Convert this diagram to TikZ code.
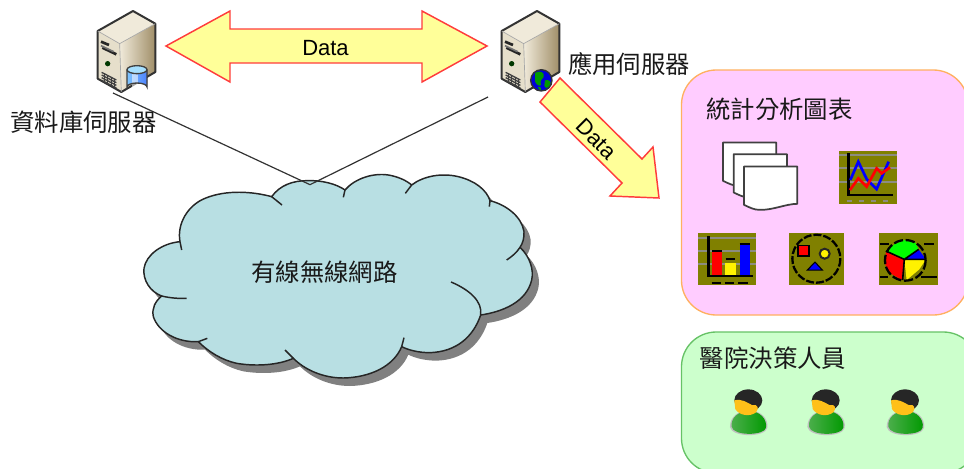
\documentclass[tikz,border=0pt]{standalone}
\usepackage{fontspec}
\newfontfamily\cjk{Noto Sans CJK TC}
\setsansfont{Liberation Sans}
\usetikzlibrary{shadings}
\definecolor{pinkbox}{HTML}{FFCCFF}
\definecolor{pinkedge}{HTML}{FFB060}
\definecolor{greenbox}{HTML}{CCFFCC}
\definecolor{greenedge}{HTML}{66C266}
\definecolor{cloudfill}{HTML}{B8DFE3}
\definecolor{arrowfill}{HTML}{FFFF99}
\definecolor{arrowedge}{HTML}{FF3C3C}
\definecolor{olivebg}{HTML}{808000}
\definecolor{gridgray}{HTML}{8C8C80}
\definecolor{srvlight}{HTML}{F0EADA}
\definecolor{srvfront}{HTML}{E6DFCB}
\definecolor{srvdark}{HTML}{A08E68}
\tikzset{
  label cjk/.style={font=\cjk\fontsize{18.3}{18.3}\selectfont,inner sep=0pt,text=black!90},
  data label/.style={font=\sffamily\fontsize{16.5}{17}\selectfont,inner sep=0pt},
  bigarrow/.style={fill=arrowfill,draw=arrowedge,line width=1.1pt,line join=miter},
  infobox/.style={rounded corners=26pt,line width=1pt},
  zoomunits/.style={x=0.25pt,y=-0.25pt},
  pagesheet/.style={fill=white,draw=black!75,line width=1.3pt,line join=round},
  gridline/.style={gridgray,line width=1.4pt},
  serverbody/.pic={
    \begin{scope}[zoomunits,line join=round]
      \shade[left color=srvlight,right color=srvdark]
        (-40,98)--(67,38)--(67,183)--(-35,243)--cycle;
      \fill[srvlight] (0,0)--(67,38)--(-40,98)--(-106,60)--cycle;
      \fill[srvfront] (-106,60)--(-40,98)--(-35,243)--(-106,203)--cycle;
      \draw[black!80,line width=1.5pt] (0,0)--(67,38)--(67,183)--(-35,243)--(-106,203)--(-106,60)--cycle;
      \draw[black!35,line width=.5pt] (-106,60)--(-40,98)--(67,38) (-40,98)--(-35,243);
      \draw[black!85,line width=2pt] (-96,92)--(-72,102) (-92,110)--(-50,130);
      \draw[black!55,line width=1.2pt] (-96,104)--(-58,122);
      \fill[black!45!green!40!black] (-76,158) circle (8);
      \draw[black!75,line width=1pt] (-94,184)--(-50,207) (-94,192)--(-50,215) (-94,200)--(-50,223) (-94,208)--(-50,231);
      \draw[black!75,line width=.7pt] (-86,188)--(-86,214) (-76,193)--(-76,219) (-66,198)--(-66,224) (-56,203)--(-56,229);
    \end{scope}
  },
  dbdisk/.pic={
    \begin{scope}[zoomunits]
      \fill[left color=blue!45!cyan!50!white,right color=blue!70!cyan!70!white] (-18,176) -- (-18,228) arc[start angle=180,end angle=360,x radius=30,y radius=12] -- (42,176)--cycle;
      \fill[white,opacity=.55] (-4,185) rectangle (14,238);
      \fill[blue!35!cyan!35!white] (12,176) ellipse (30 and 12);
      \draw[black!75,line width=1pt] (-18,176) -- (-18,228) arc[start angle=180,end angle=360,x radius=30,y radius=12] -- (42,176);
      \draw[black!75,line width=1pt] (12,176) ellipse (30 and 12);
    \end{scope}
  },
  globeicon/.pic={
    \begin{scope}[zoomunits]
      \fill[blue!85!black] (13,208) circle (32);
      \fill[green!60!black] (-6,186) .. controls (8,176) and (24,184) .. (20,198) .. controls (14,206) and (8,208) .. (12,222) .. controls (6,230) and (-10,214) .. (-6,204) --cycle;
      \fill[green!60!black] (24,208) .. controls (36,204) and (44,212) .. (40,222) .. controls (32,234) and (24,232) .. (22,224) --cycle;
      \fill[green!60!black] (2,228) .. controls (10,226) and (16,232) .. (10,240) --cycle;
      \draw[black!80,line width=1pt] (13,208) circle (32);
    \end{scope}
  },
  pagestack/.pic={
    \begin{scope}[zoomunits]
      \foreach \dx/\dy in {0/0,32/35,63/72}{
        \begin{scope}[shift={(\dx,\dy)}]
          \draw[pagesheet] (0,0) -- (160,0) -- (160,112) .. controls (125,112) and (85,132) .. (45,130) .. controls (30,130) and (15,122) .. (0,115) -- cycle;
        \end{scope}}
    \end{scope}
  },
  linechart/.pic={
    \begin{scope}[zoomunits]
      \fill[olivebg] (0,0) rectangle (172,160);
      \foreach \yy in {13,53,93}{\draw[gridline] (0,\yy)--(172,\yy);}
      \draw[black,line width=1.8pt] (27,8)--(27,133)--(162,133);
      \draw[gridgray,line width=1.2pt,dash pattern=on 4pt off 5pt] (22,150)--(165,150);
      \draw[blue,line width=2pt] (33,88)--(57,33)--(82,85)--(112,115)--(148,33);
      \draw[red,line width=2pt] (32,118)--(57,83)--(82,108)--(112,53)--(127,68)--(152,50);
    \end{scope}
  },
  barchart/.pic={
    \begin{scope}[zoomunits]
      \fill[olivebg] (0,0) rectangle (173,157);
      \foreach \yy in {15,55,95}{\draw[gridline] (0,\yy)--(173,\yy);}
      \fill[red] (42,58) rectangle (72,128);
      \fill[yellow] (80,92) rectangle (112,128);
      \fill[blue] (124,36) rectangle (154,128);
      \draw[black,line width=1.4pt] (42,56)--(72,56) (82,80)--(110,80) (124,35)--(154,35);
      \draw[black,line width=1.8pt] (30,10)--(30,130)--(165,130);
      \draw[black,line width=1.6pt,dash pattern=on 7pt off 3pt] (40,152)--(160,152);
    \end{scope}
  },
  shapeschart/.pic={
    \begin{scope}[zoomunits]
      \fill[olivebg] (0,0) rectangle (165,157);
      \draw[black,line width=1.7pt,dash pattern=on 6pt off 1.5pt] (82,78) circle (72);
      \fill[red,draw=black,line width=1.2pt] (27,38) rectangle (60,70);
      \fill[yellow,draw=black!85,line width=1.5pt] (107,63) circle (15);
      \fill[blue,draw=black,line width=.8pt] (78,88)--(100,112)--(55,112)--cycle;
    \end{scope}
  },
  piechart/.pic={
    \begin{scope}[zoomunits]
      \fill[olivebg] (0,0) rectangle (175,157);
      \draw[black,line width=1.7pt] (2,33)--(28,33) (135,33)--(165,33) (2,132)--(25,132) (125,132)--(172,132);
      \fill[red] (75,80)--(20,55)--(18,95)--(30,120)--(68,142)--cycle;
      \fill[green] (75,80)--(20,55)--(45,35)--(75,22)--(108,30)--(118,50)--cycle;
      \fill[blue] (75,80)--(118,50)--(140,80)--cycle;
      \fill[yellow] (75,80)--(140,80)--(120,110)--(82,142)--cycle;
      \draw[black,line width=1.2pt] (20,55)--(75,80)--(118,50) (75,80)--(140,80) (75,80)--(70,142);
      \draw[black,line width=1.7pt,dash pattern=on 7pt off 2pt] (78,83) circle (61);
    \end{scope}
  },
  personicon/.pic={
    \begin{scope}[zoomunits,shift={(-208,-260)}]
      \fill[black!25] (150,306) .. controls (150,275) and (175,256) .. (207,256) .. controls (242,256) and (266,280) .. (262,308) .. controls (256,338) and (156,338) .. (150,306) -- cycle;
      \shade[left color=green!55!black!70!white,right color=green!60!black,draw=none] (155,305) .. controls (152,278) and (175,258) .. (207,258) .. controls (240,258) and (262,282) .. (258,308) .. controls (254,332) and (160,334) .. (155,305) -- cycle;
      \fill[black!85] (205,226) ellipse (42 and 33);
      \fill[orange!55!yellow!90!white] (163,226) .. controls (185,220) and (200,232) .. (216,240) .. controls (234,236) and (238,250) .. (228,262) .. controls (210,276) and (178,272) .. (166,252) -- cycle;
    \end{scope}
  }
}
\begin{document}
\begin{tikzpicture}[x=0.75pt,y=-0.75pt]
\useasboundingbox (0,0) rectangle (964,468);
\begin{scope}
\clip (0,0) rectangle (964,468);
\draw[infobox,fill=pinkbox,draw=pinkedge] (681.5,70) rectangle (968,315);
\draw[infobox,fill=greenbox,draw=greenedge] (681.5,332) rectangle (978,473);

% cloud
\newcommand{\cloudoutline}{(425,80) .. controls (450,45) and (490,32) .. (530,32) .. controls (575,30) and (620,42) .. (645,60)
 .. controls (675,25) and (730,8) .. (775,15) .. controls (805,20) and (830,32) .. (845,45)
 .. controls (880,18) and (935,8) .. (985,20) .. controls (1035,32) and (1070,60) .. (1080,92)
 .. controls (1130,105) and (1175,140) .. (1182,185) .. controls (1183,205) and (1178,220) .. (1170,232)
 .. controls (1200,260) and (1212,300) .. (1205,330) .. controls (1190,395) and (1120,425) .. (1052,435)
 .. controls (1030,500) and (980,545) .. (900,548) .. controls (865,548) and (835,540) .. (815,530)
 .. controls (790,590) and (720,622) .. (640,624) .. controls (580,624) and (525,600) .. (490,565)
 .. controls (445,585) and (380,590) .. (320,580) .. controls (275,570) and (235,545) .. (205,515)
 .. controls (140,518) and (85,485) .. (70,440) .. controls (65,415) and (75,395) .. (95,378)
 .. controls (60,365) and (38,330) .. (42,295) .. controls (48,255) and (95,220) .. (150,215)
 .. controls (140,160) and (175,105) .. (225,85) .. controls (290,58) and (370,65) .. (425,80) -- cycle}
\begin{scope}[shift={(130,170)},zoomunits]
  \fill[black!50,shift={(20,24)}] \cloudoutline;
  \fill[cloudfill] \cloudoutline;
  \draw[black!85,line width=1.1pt,line join=round] \cloudoutline;
  \draw[black!85,line width=1.1pt] (425,80) -- (456,105);
  \draw[black!85,line width=1.1pt] (645,60) -- (640,82);
  \draw[black!85,line width=1.1pt] (845,45) -- (826,70);
  \draw[black!85,line width=1.1pt] (1080,92) -- (1078,110);
  \draw[black!85,line width=1.1pt] (1170,232) .. controls (1160,248) and (1145,260) .. (1130,270);
  \draw[black!85,line width=1.1pt] (1052,435) .. controls (1058,395) and (1020,360) .. (963,336);
  \draw[black!85,line width=1.1pt] (815,530) -- (822,503);
  \draw[black!85,line width=1.1pt] (490,565) -- (465,540);
  \draw[black!85,line width=1.1pt] (205,515) -- (232,505);
  \draw[black!85,line width=1.1pt] (95,378) .. controls (120,384) and (145,386) .. (170,385);
  \draw[black!85,line width=1.1pt] (150,215) -- (155,240);
  \coordinate (cloudtop) at (540,44);
\end{scope}
\node[label cjk] (cloudlabel) at (324.5,272) {有線無線網路};

% servers
\pic at (133,11) {serverbody};
\pic at (133,11) {dbdisk};
\pic at (537,11) {serverbody};
\pic at (537,11) {globeicon};
\coordinate (dbport) at (113,93);
\coordinate (appport) at (488,97);
\draw[black!80,line width=.9pt] (dbport) -- (cloudtop) -- (appport);

% arrows
\draw[bigarrow] (166,46) -- (230,11) -- (230,29) -- (422,29) -- (422,11) -- (487,46) -- (422,82) -- (422,63) -- (230,63) -- (230,82) -- cycle;
\node[data label] (datatop) at (325.5,48) {Data};
\draw[bigarrow] (560,78) -- (642,159) -- (653,147) -- (659,198) -- (610,196) -- (622,183) -- (540,102) -- cycle;
\node[data label,rotate=-45] (datadiag) at (596,139) {Data};

% labels
\node[label cjk] (dblabel) at (83.5,122) {資料庫伺服器};
\node[label cjk] (applabel) at (629,64) {應用伺服器};
\node[label cjk] (statlabel) at (779.5,109) {統計分析圖表};
\node[label cjk] (staff) at (773,358) {醫院決策人員};

% chart icons
\pic at (723,142.5) {pagestack};
\pic at (839.3,150.7) {linechart};
\pic at (698.3,232.7) {barchart};
\pic at (789,232.7) {shapeschart};
\pic at (879.3,232.7) {piechart};

% people
\pic at (749.3,411.7) {personicon};
\pic at (826.7,411.7) {personicon};
\pic at (906,411.7) {personicon};
\end{scope}
\end{tikzpicture}
\end{document}
